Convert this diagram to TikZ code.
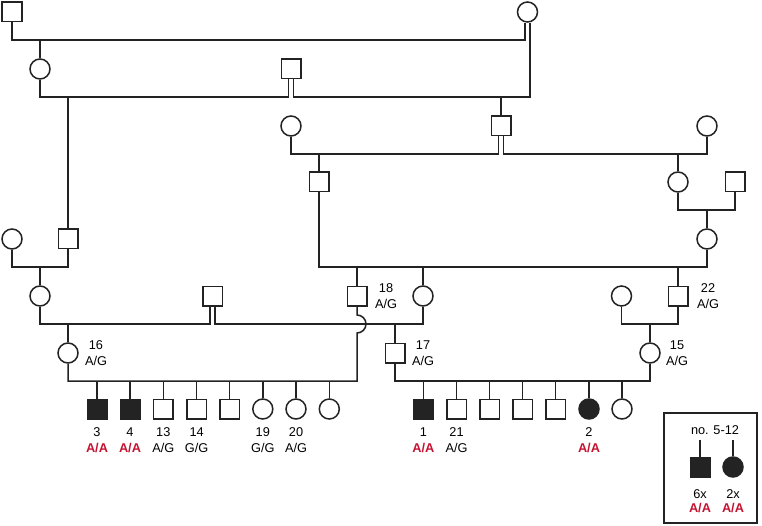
\documentclass[tikz,border=0pt]{standalone}
\usepackage{fontspec}
\setmainfont{Liberation Sans}
\usetikzlibrary{positioning}
\definecolor{pedred}{RGB}{196,18,48}
\definecolor{pedline}{RGB}{35,35,35}
\tikzset{
  male/.style={draw, rectangle, minimum size=19.5bp, inner sep=0pt},
  female/.style={draw, circle, minimum size=20bp, inner sep=0pt},
  aff/.style={fill=pedline},
  gt/.style={align=center, inner sep=0pt, font=\fontsize{12.8}{16}\selectfont},
  gtkey/.style={align=center, inner sep=0pt, font=\fontsize{12.8}{14}\selectfont},
}
\newcommand{\homAA}{\textcolor{pedred}{\bfseries A/A}}
\begin{document}
\begin{tikzpicture}[x=1bp,y=1bp,line width=1.5bp,draw=pedline]
\useasboundingbox (0,0) rectangle (762,-526);
% mating / sibship levels
\coordinate (m1) at (0,-40);
\coordinate (m2) at (0,-97);
\coordinate (m3) at (0,-154);
\coordinate (m4) at (0,-210);
\coordinate (m5) at (0,-267);
\coordinate (m6) at (0,-324);
\coordinate (m7) at (0,-381);

% individuals
\node[male] (sqA) at (12,-12) {};
\node[female] (ciA) at (527.5,-12) {};
\node[female] (ciB) at (40,-69) {};
\node[male] (sqB) at (291,-69) {};
\node[female] (ciC) at (291,-126) {};
\node[male] (sqC) at (501,-126) {};
\node[female] (ciC2) at (707,-126) {};
\node[male] (sqD) at (319,-182) {};
\node[female] (ciD) at (678,-182) {};
\node[male] (sqD2) at (735,-182) {};
\node[female] (ciE) at (12,-239) {};
\node[male] (sqE) at (68,-239) {};
\node[female] (ciE2) at (707,-239) {};
\node[female] (ciF) at (40,-296) {};
\node[male] (sqF) at (212.5,-296) {};
\node[male] (n18) at (357,-296) {};
\node[female] (ciF2) at (423,-296) {};
\node[female] (ciF3) at (621.5,-296) {};
\node[male] (n22) at (678,-296) {};
\node[female] (n16) at (68,-353) {};
\node[male] (n17) at (395,-353) {};
\node[female] (n15) at (650,-353) {};

% children of 16 and 18
\node[male, aff] (k3) at (97,-409) {};
\node[male, aff] (k4) at (130,-409) {};
\node[male] (k13) at (163.3,-409) {};
\node[male] (k14) at (196.6,-409) {};
\node[male] (kx1) at (229.5,-409) {};
\node[female] (k19) at (262.8,-409) {};
\node[female] (k20) at (296,-409) {};
\node[female] (kx2) at (329.3,-409) {};
% children of 17 and 15
\node[male, aff] (k1) at (423.3,-409) {};
\node[male] (k21) at (456.5,-409) {};
\node[male] (kx3) at (489.5,-409) {};
\node[male] (kx4) at (522.6,-409) {};
\node[male] (kx5) at (555.6,-409) {};
\node[female, aff] (k2) at (589,-409) {};
\node[female] (kx6) at (622,-409) {};

% lines
\draw (sqA) -- (sqA |- m1) -| ([xshift=-2.5bp]ciA.south);
\draw (ciB) -- (ciB |- m1);
\draw (ciB) -- (ciB |- m2) -| ([xshift=-2.5bp]sqB.south);
\draw ([xshift=2.5bp]sqB.south) -- ([xshift=2.5bp]sqB.south |- m2) -| ([xshift=2.5bp]ciA.south);
\draw (sqE) -- (sqE |- m2);
\draw (sqC) -- (sqC |- m2);
\draw (ciC) -- (ciC |- m3) -| ([xshift=-2.5bp]sqC.south);
\draw ([xshift=2.5bp]sqC.south) -- ([xshift=2.5bp]sqC.south |- m3) -| (ciC2);
\draw (sqD) -- (sqD |- m3);
\draw (ciD) -- (ciD |- m3);
\draw (ciD) -- (ciD |- m4) -| (sqD2);
\draw (ciE2) -- (ciE2 |- m4);
\draw (ciE) -- (ciE |- m5) -| (sqE);
\draw (ciF) -- (ciF |- m5);
\draw (sqD) -- (sqD |- m5) -| (ciE2);
\draw (n18) -- (n18 |- m5);
\draw (ciF2) -- (ciF2 |- m5);
\draw (n22) -- (n22 |- m5);
\draw (ciF) -- (ciF |- m6) -| ([xshift=-2.5bp]sqF.south);
\draw ([xshift=2.5bp]sqF.south) -- ([xshift=2.5bp]sqF.south |- m6) -| (ciF2);
\draw (n16) -- (n16 |- m6);
\draw (n17) -- (n17 |- m6);
\draw (ciF3) -- (ciF3 |- m6) -| (n22);
\draw (n15) -- (n15 |- m6);
% 18 hops over the line of 16's parents
\draw (n18) -- ([yshift=9bp]n18 |- m6) arc (90:-90:9) -- (n18 |- m7) -| (n16);
\draw (n17) -- (n17 |- m7) -| (n15);
\draw (k3) -- (k3 |- m7);
\draw (k4) -- (k4 |- m7);
\draw (k13) -- (k13 |- m7);
\draw (k14) -- (k14 |- m7);
\draw (kx1) -- (kx1 |- m7);
\draw (k19) -- (k19 |- m7);
\draw (k20) -- (k20 |- m7);
\draw (kx2) -- (kx2 |- m7);
\draw (k1) -- (k1 |- m7);
\draw (k21) -- (k21 |- m7);
\draw (kx3) -- (kx3 |- m7);
\draw (kx4) -- (kx4 |- m7);
\draw (kx5) -- (kx5 |- m7);
\draw (k2) -- (k2 |- m7);
\draw (kx6) -- (kx6 |- m7);

% genotypes
\node[gt] (t18) at ([xshift=29bp]n18.center) {18\\A/G};
\node[gt] (t22) at ([xshift=30bp]n22.center) {22\\A/G};
\node[gt] (t16) at ([xshift=28bp]n16.center) {16\\A/G};
\node[gt] (t17) at ([xshift=28bp]n17.center) {17\\A/G};
\node[gt] (t15) at ([xshift=27bp]n15.center) {15\\A/G};
\node[gt, below=7.5bp of k3] (t3) {3\\\homAA};
\node[gt, below=7.5bp of k4] (t4) {4\\\homAA};
\node[gt, below=7.5bp of k13] (t13) {13\\A/G};
\node[gt, below=7.5bp of k14] (t14) {14\\G/G};
\node[gt, below=7.5bp of k19] (t19) {19\\G/G};
\node[gt, below=7.5bp of k20] (t20) {20\\A/G};
\node[gt, below=7.5bp of k1] (t1) {1\\\homAA};
\node[gt, below=7.5bp of k21] (t21) {21\\A/G};
\node[gt, below=7.5bp of k2] (t2) {2\\\homAA};

% key for no. 5-12
\node[draw, minimum width=93bp, minimum height=110bp, inner sep=0pt] (key) at (710.5,-468) {};
\node[gt] (keyt) at (715,-430) {no. 5-12};
\node[male, aff] (ksq) at (700,-467) {};
\node[female, aff] (kci) at (733,-467) {};
\coordinate (ksqtop) at (700,-440);
\coordinate (kcitop) at (733,-440);
\draw (ksq) -- (ksqtop);
\draw (kci) -- (kcitop);
\node[gtkey, below=11bp of ksq] (ksqt) {6x\\\homAA};
\node[gtkey, below=11bp of kci] (kcit) {2x\\\homAA};
\end{tikzpicture}
\end{document}
